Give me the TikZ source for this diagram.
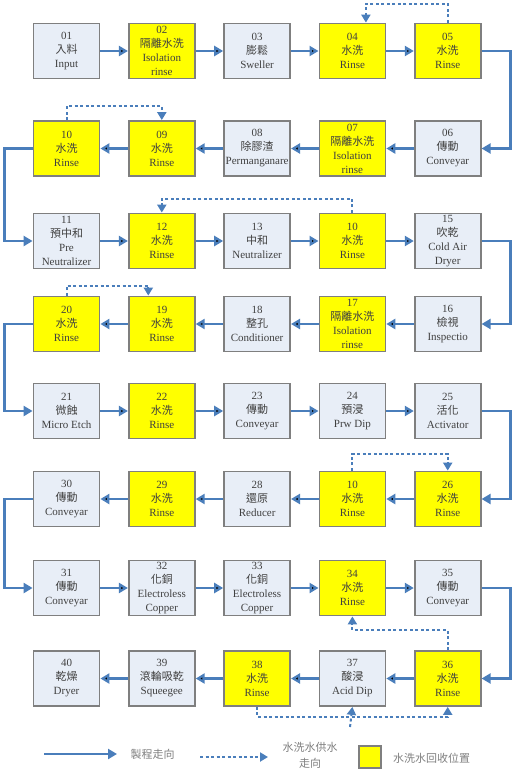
\documentclass[tikz,border=0pt]{standalone}
\usepackage{fontspec}
\setmainfont{Liberation Serif}
\newfontfamily\cjk{Noto Sans CJK TC}
\usepackage{xcolor,tikz}
\usetikzlibrary{positioning,arrows.meta}
\definecolor{flowblue}{HTML}{4A7EBB}
\definecolor{boxgray}{HTML}{E8EEF7}
\definecolor{edgegray}{HTML}{7F7F7F}
\definecolor{rinsefill}{HTML}{FFFF00}
\definecolor{ink}{HTML}{404040}
\newcommand{\zh}[1]{{\cjk #1}}

\begin{document}
\begin{tikzpicture}[
  x=1pt,y=-1pt,
  node distance=27.5pt,
  every node/.style={font=\fontsize{11}{14}\selectfont,align=center,text=ink},
  tank/.style={draw=edgegray,line width=1.8pt,fill=boxgray,minimum width=66pt,minimum height=55pt,inner sep=0pt},
  rinse/.style={tank,fill=rinsefill},
  flow/.style={draw=flowblue,line width=2.4pt,-{Triangle[length=9pt,width=10pt]}},
  supply/.style={draw=flowblue,line width=2pt,dash pattern=on 3pt off 2.5pt,-{Triangle[length=8pt,width=9pt]}},
  legend/.style={text=edgegray}
]
\useasboundingbox (0,0) rectangle (515,776);
% row 1
\node[tank] (s01) at (66.5,51) {01\\\zh{入料}\\Input};
\node[rinse,right=of s01] (s02) {02\\\zh{隔離水洗}\\Isolation\\rinse};
\node[tank,right=of s02] (s03) {03\\\zh{膨鬆}\\Sweller};
\node[rinse,right=of s03] (s04) {04\\\zh{水洗}\\Rinse};
\node[rinse,right=of s04] (s05) {05\\\zh{水洗}\\Rinse};
% row 2
\node[rinse] (s10) at (66.5,148.5) {10\\\zh{水洗}\\Rinse};
\node[rinse,right=of s10] (s09) {09\\\zh{水洗}\\Rinse};
\node[tank,right=of s09] (s08) {08\\\zh{除膠渣}\\Permanganare};
\node[rinse,right=of s08] (s07) {07\\\zh{隔離水洗}\\Isolation\\rinse};
\node[tank,right=of s07] (s06) {06\\\zh{傳動}\\Conveyar};
% row 3
\node[tank] (s11) at (66.5,241) {11\\\zh{預中和}\\Pre\\Neutralizer};
\node[rinse,right=of s11] (s12) {12\\\zh{水洗}\\Rinse};
\node[tank,right=of s12] (s13) {13\\\zh{中和}\\Neutralizer};
\node[rinse,right=of s13] (s14) {10\\\zh{水洗}\\Rinse};
\node[tank,right=of s14] (s15) {15\\\zh{吹乾}\\Cold Air\\Dryer};
% row 4
\node[rinse] (s20) at (66.5,324) {20\\\zh{水洗}\\Rinse};
\node[rinse,right=of s20] (s19) {19\\\zh{水洗}\\Rinse};
\node[tank,right=of s19] (s18) {18\\\zh{整孔}\\Conditioner};
\node[rinse,right=of s18] (s17) {17\\\zh{隔離水洗}\\Isolation\\rinse};
\node[tank,right=of s17] (s16) {16\\\zh{檢視}\\Inspectio};
% row 5
\node[tank] (s21) at (66.5,411) {21\\\zh{微蝕}\\Micro Etch};
\node[rinse,right=of s21] (s22) {22\\\zh{水洗}\\Rinse};
\node[tank,right=of s22] (s23) {23\\\zh{傳動}\\Conveyar};
\node[tank,right=of s23] (s24) {24\\\zh{預浸}\\Prw Dip};
\node[tank,right=of s24] (s25) {25\\\zh{活化}\\Activator};
% row 6
\node[tank] (s30) at (66.5,499) {30\\\zh{傳動}\\Conveyar};
\node[rinse,right=of s30] (s29) {29\\\zh{水洗}\\Rinse};
\node[tank,right=of s29] (s28) {28\\\zh{還原}\\Reducer};
\node[rinse,right=of s28] (s27) {10\\\zh{水洗}\\Rinse};
\node[rinse,right=of s27] (s26) {26\\\zh{水洗}\\Rinse};
% row 7
\node[tank] (s31) at (66.5,588) {31\\\zh{傳動}\\Conveyar};
\node[tank,right=of s31] (s32) {32\\\zh{化銅}\\Electroless\\Copper};
\node[tank,right=of s32] (s33) {33\\\zh{化銅}\\Electroless\\Copper};
\node[rinse,right=of s33] (s34) {34\\\zh{水洗}\\Rinse};
\node[tank,right=of s34] (s35) {35\\\zh{傳動}\\Conveyar};
% row 8
\node[tank] (s40) at (66.5,678.5) {40\\\zh{乾燥}\\Dryer};
\node[tank,right=of s40] (s39) {39\\\zh{滾輪吸乾}\\Squeegee};
\node[rinse,right=of s39] (s38) {38\\\zh{水洗}\\Rinse};
\node[tank,right=of s38] (s37) {37\\\zh{酸浸}\\Acid Dip};
\node[rinse,right=of s37] (s36) {36\\\zh{水洗}\\Rinse};

% process flow
\draw[flow] (s01) edge (s02) (s02) edge (s03) (s03) edge (s04) (s04) edge (s05);
\draw[flow] (s05.east) -- ++(29,0) |- (s06.east);
\draw[flow] (s06) edge (s07) (s07) edge (s08) (s08) edge (s09) (s09) edge (s10);
\draw[flow] (s10.west) -- ++(-28,0) |- (s11.west);
\draw[flow] (s11) edge (s12) (s12) edge (s13) (s13) edge (s14) (s14) edge (s15);
\draw[flow] (s15.east) -- ++(29,0) |- (s16.east);
\draw[flow] (s16) edge (s17) (s17) edge (s18) (s18) edge (s19) (s19) edge (s20);
\draw[flow] (s20.west) -- ++(-28,0) |- (s21.west);
\draw[flow] (s21) edge (s22) (s22) edge (s23) (s23) edge (s24) (s24) edge (s25);
\draw[flow] (s25.east) -- ++(29,0) |- (s26.east);
\draw[flow] (s26) edge (s27) (s27) edge (s28) (s28) edge (s29) (s29) edge (s30);
\draw[flow] (s30.west) -- ++(-28,0) |- (s31.west);
\draw[flow] (s31) edge (s32) (s32) edge (s33) (s33) edge (s34) (s34) edge (s35);
\draw[flow] (s35.east) -- ++(29,0) |- (s36.east);
\draw[flow] (s36) edge (s37) (s37) edge (s38) (s38) edge (s39) (s39) edge (s40);

% rinse water supply
\draw[supply] (s05.north) -- ++(0,-19) -| ([xshift=13.5pt]s04.north);
\draw[supply] (s10.north) -- ++(0,-14) -| (s09.north);
\draw[supply] (s14.north) -- ++(0,-14) -| (s12.north);
\draw[supply] (s20.north) -- ++(0,-10) -| ([xshift=-13.5pt]s19.north);
\draw[supply] (s27.north) -- ++(0,-17) -| (s26.north);
\draw[supply] (s36.north) -- ++(0,-20) -| (s34.south);
\draw[supply] (s38.south) -- ++(0,10) -| (s36.south);
\coordinate (feed) at (350,727);
\draw[supply] (feed) -- (s37.south);

% legend
\coordinate (lf1) at (44,754);
\coordinate (lf2) at (117,754);
\draw[flow] (lf1) -- (lf2);
\node[legend] (lt1) at (152.5,754) {\zh{製程走向}};
\coordinate (ls1) at (200,757);
\coordinate (ls2) at (268,757);
\draw[supply] (ls1) -- (ls2);
\node[legend,font=\fontsize{11}{16}\selectfont] (lt2) at (310,755) {\zh{水洗水供水}\\\zh{走向}};
\node[draw=edgegray,line width=1.8pt,fill=rinsefill,minimum size=22pt,inner sep=0pt] (lbox) at (370,757) {};
\node[legend] (lt3) at (431.5,758) {\zh{水洗水回收位置}};
\end{tikzpicture}
\end{document}
